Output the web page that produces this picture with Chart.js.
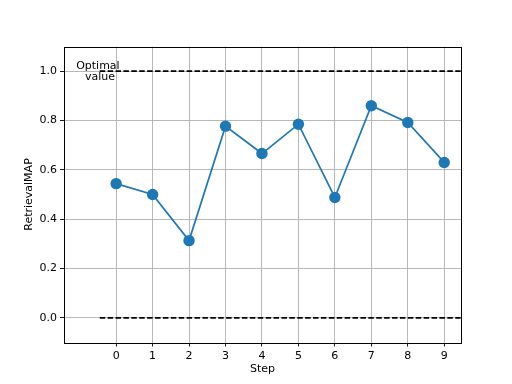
<!DOCTYPE html>
<html><head><meta charset="utf-8">
<script src="https://cdn.jsdelivr.net/npm/chart.js@4"></script>
<style>html,body{margin:0;padding:0;background:#fff}#wrap{width:512px;height:384px}</style>
</head><body><div id="wrap"><canvas id="c" width="512" height="384"></canvas></div>
<script>
const steps = [0,1,2,3,4,5,6,7,8,9];
const mapValues = [0.544,0.500,0.313,0.777,0.666,0.785,0.488,0.860,0.792,0.630];
const optimalValue = 1.0;
const baselineValue = 0.0;
const dashStart = -0.45, dashEnd = 9.45;
const xTicks = [0,1,2,3,4,5,6,7,8,9];
const yTicks = [0.0,0.2,0.4,0.6,0.8,1.0];
const optimalLabel = ['Optimal','value'];

const FONT = 'DejaVu Sans';
const frame = {
  id:'frame',
  afterDatasetsDraw(chart){
    const {ctx, chartArea:a, scales} = chart;
    ctx.save();
    ctx.strokeStyle='#000'; ctx.lineWidth=1;
    ctx.strokeRect(Math.round(a.left)+0.5, Math.round(a.top)+0.5, Math.round(a.right-a.left), Math.round(a.bottom-a.top));
    ctx.fillStyle='#000'; ctx.font='11px "'+FONT+'"';
    ctx.textAlign='center'; ctx.textBaseline='middle';
    const x = scales.x.getPixelForValue(-0.5), y = scales.y.getPixelForValue(optimalValue);
    ctx.fillText(optimalLabel[0], x, y-5.5);
    ctx.fillText(optimalLabel[1], x+2, y+6);
    ctx.restore();
  }
};

new Chart(document.getElementById('c'), {
  type:'line',
  data:{datasets:[
    {data:steps.map((s,i)=>({x:s,y:mapValues[i]})), borderColor:'#1f77b4', backgroundColor:'#1f77b4',
     borderWidth:1.7, pointRadius:5.7, pointBorderWidth:0, pointHoverRadius:5.7, tension:0, order:1},
    {data:[{x:dashStart,y:optimalValue},{x:dashEnd,y:optimalValue}], borderColor:'#000', borderWidth:1.6,
     borderDash:[5.5,2.4], pointRadius:0, order:2},
    {data:[{x:dashStart,y:baselineValue},{x:dashEnd,y:baselineValue}], borderColor:'#000', borderWidth:1.6,
     borderDash:[5.5,2.4], pointRadius:0, order:2}
  ]},
  options:{
    responsive:false, animation:false, devicePixelRatio:1,
    layout:{padding:{left:0,top:46.5,right:51,bottom:0}},
    plugins:{legend:{display:false}, tooltip:{enabled:false}},
    scales:{
      x:{type:'linear', min:-1.43, max:9.46,
        afterBuildTicks(s){ s.ticks = xTicks.map(v=>({value:v})); },
        afterFit(s){ s.height = 41.5; },
        grid:{color:'#b0b0b0', lineWidth:0.9, tickColor:'#000', tickLength:4, drawTicks:true},
        border:{display:false},
        ticks:{color:'#000', font:{family:FONT,size:11}, padding:3, maxRotation:0, autoSkip:false, callback:v=>String(v)},
        title:{display:true, text:'Step', color:'#000', font:{family:FONT,size:11}, padding:8}
      },
      y:{type:'linear', min:-0.1, max:1.1,
        afterBuildTicks(s){ s.ticks = yTicks.map(v=>({value:v})); },
        afterFit(s){ s.width = 64; },
        grid:{color:'#b0b0b0', lineWidth:0.9, tickColor:'#000', tickLength:4, drawTicks:true},
        border:{display:false},
        ticks:{color:'#000', font:{family:FONT,size:11}, padding:3, autoSkip:false, callback:v=>Number(v).toFixed(1)},
        title:{display:true, text:'RetrievalMAP', color:'#000', font:{family:FONT,size:11}, padding:23}
      }
    }
  },
  plugins:[frame]
});
</script></body></html>
